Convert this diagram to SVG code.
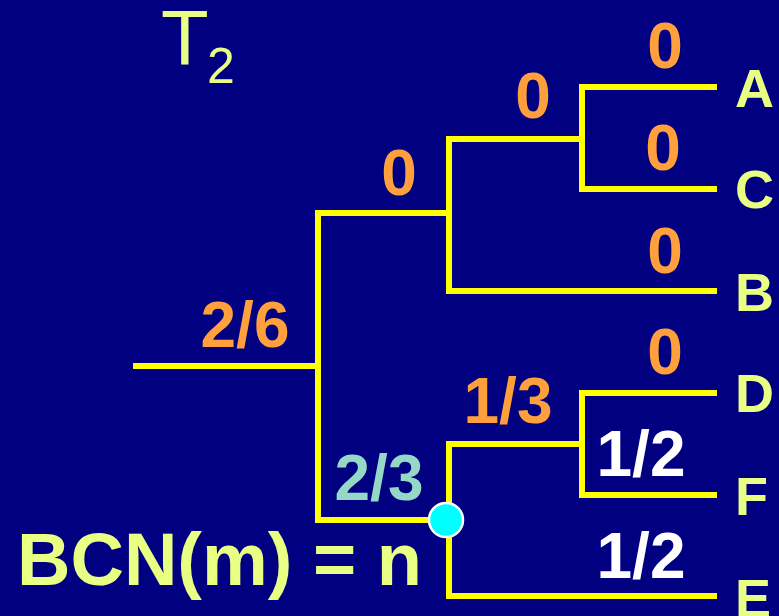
<svg xmlns="http://www.w3.org/2000/svg" width="779" height="616" viewBox="0 0 779 616">
  <style>
    .edge { fill: none; stroke: #FFFF00; stroke-width: 6; stroke-linejoin: miter; stroke-linecap: butt; }
    .leaf { font-family: "Liberation Sans", Arial, sans-serif; font-weight: bold; font-size: 54px; fill: #E8FF84; }
    .w { font-family: "Liberation Sans", Arial, sans-serif; font-weight: bold; font-size: 64px; text-anchor: middle; }
    .o { fill: #FFA03C; }
    .wh { fill: #FFFFFF; }
    .tl { fill: #96D8C6; }
  </style>
  <rect width="779" height="616" fill="#000080"/>

  <!-- tree title -->
  <g id="title" font-family="Liberation Sans, Arial, sans-serif" fill="#E8FF84">
    <text x="161" y="65" font-size="78">T</text>
    <text x="207" y="83" font-size="50">2</text>
  </g>

  <!-- branches -->
  <g id="connectors">
    <path class="edge" d="M133 366 H318"/>
    <path class="edge" d="M449 213 H318 V520 H449"/>
    <path class="edge" d="M582 139 H449 V291 H717"/>
    <path class="edge" d="M717 87 H582 V189 H717"/>
    <path class="edge" d="M582 444 H449 V596 H717"/>
    <path class="edge" d="M717 393 H582 V495 H717"/>
  </g>

  <!-- leaves -->
  <g id="leaf-A"><text class="leaf" x="735" y="107">A</text></g>
  <g id="leaf-C"><text class="leaf" x="735" y="208">C</text></g>
  <g id="leaf-B"><text class="leaf" x="735" y="311">B</text></g>
  <g id="leaf-D"><text class="leaf" x="735" y="412">D</text></g>
  <g id="leaf-F"><text class="leaf" x="735" y="515">F</text></g>
  <g id="leaf-E"><text class="leaf" x="735" y="617">E</text></g>

  <!-- marked node m -->
  <g id="node-m">
    <circle cx="446" cy="520" r="17" fill="#00FFFF" stroke="#FFFFFF" stroke-width="2.5"/>
  </g>

  <!-- branch weights -->
  <g id="weights">
    <text class="w o" x="665" y="68">0</text>
    <text class="w o" x="533" y="118">0</text>
    <text class="w o" x="663" y="170">0</text>
    <text class="w o" x="399" y="195">0</text>
    <text class="w o" x="665" y="273">0</text>
    <text class="w o" x="245" y="347">2/6</text>
    <text class="w o" x="665" y="374">0</text>
    <text class="w o" x="508" y="423">1/3</text>
    <text class="w wh" x="641" y="476">1/2</text>
    <text class="w tl" x="379" y="500">2/3</text>
    <text class="w wh" x="641" y="578">1/2</text>
  </g>

  <!-- formula -->
  <g id="formula">
    <text x="17" y="585" font-family="Liberation Sans, Arial, sans-serif" font-weight="bold" font-size="74" fill="#E8FF84">BCN(m) = n</text>
  </g>
</svg>
